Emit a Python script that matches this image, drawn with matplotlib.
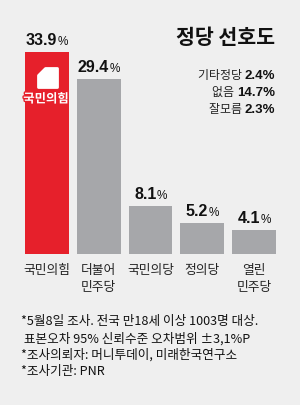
import matplotlib
matplotlib.use("Agg")
import matplotlib.pyplot as plt
from matplotlib.patches import Polygon
import matplotlib.patheffects as pe

categories = ["국민의힘", "더불어\n민주당", "국민의당", "정의당", "열린\n민주당"]
values = [33.9, 29.4, 8.1, 5.2, 4.1]
value_labels = ["33.9", "29.4", "8.1", "5.2", "4.1"]
others_names = ["기타정당", "없음", "잘모름"]
others_values = ["2.4%", "14.7%", "2.3%"]
title = "정당 선호도"
notes = ["*5월8일 조사. 전국 만18세 이상 1003명 대상.",
         " 표본오차 95% 신뢰수준 오차범위 ±3,1%P",
         "*조사의뢰자: 머니투데이, 미래한국연구소",
         "*조사기관: PNR"]

BG = "#efefef"
RED = "#e6202b"
GRAY = "#a6a7aa"
KR = ["Noto Sans CJK KR", "DejaVu Sans"]
NUM = ["Liberation Sans", "DejaVu Sans"]

W, H = 300, 406
fig = plt.figure(figsize=(W / 100, H / 100), dpi=100)
fig.patch.set_facecolor(BG)

# axes placement (pixel geometry)
px_per_unit = 5.96
x0 = 47 - 51.75 / 2
baseline = 255
ylim_top = 40
ax = fig.add_axes([x0 / W, (H - baseline) / H, 51.75 * 5 / W, px_per_unit * ylim_top / H])
ax.set_xlim(-0.5, 4.5)
ax.set_ylim(0, ylim_top)
ax.axis("off")
ax.patch.set_alpha(0)

colors = [RED] + [GRAY] * 4
xs = list(range(len(values)))
ax.bar(xs, values, width=0.85, color=colors)

fig.canvas.draw()
renderer = fig.canvas.get_renderer()


def pieces(x, y, parts, ha="center", gaps=None):
    """Draw (text, kwargs) pieces on one baseline, pixel coords from top-left."""
    objs = []
    widths = []
    for s, kw in parts:
        t = fig.text(0, 0, s, va="baseline", ha="left", **kw)
        bb = t.get_window_extent(renderer)
        widths.append(bb.width)
        objs.append(t)
    if gaps is None:
        gaps = [0] * len(parts)
    total = sum(widths) + sum(gaps)
    if ha == "center":
        start = x - total / 2
    elif ha == "right":
        start = x - total
    else:
        start = x
    cx = start
    for t, w, g in zip(objs, widths, gaps):
        cx += g
        t.set_position((cx / W, (H - y) / H))
        cx += w
    return objs


# value labels
for i, (v, lab) in enumerate(zip(values, value_labels)):
    xc = 47 + 51.75 * i
    ytop = baseline - v * px_per_unit
    pieces(xc, ytop - 8, [(lab, dict(family=NUM, fontsize=11.5, fontweight="bold", color="#111111")),
                          ("%", dict(family=NUM, fontsize=8.5, color="#111111"))],
           gaps=[0, 0.2])

# category labels
for i, c in enumerate(categories):
    xc = 47 + 51.75 * i
    fig.text(xc / W, (H - 264) / H, c, ha="center", va="top", family=KR,
             fontsize=9.2, color="#222222", linespacing=1.45)

# title
fig.text(275 / W, (H - 37) / H, title, ha="right", va="center", family=KR,
         fontsize=14.8, fontweight="bold", color="#111111")

# others
for j, (n, v) in enumerate(zip(others_names, others_values)):
    yb = 79 + 17 * j
    pieces(275, yb, [(n + " ", dict(family=KR, fontsize=8.6, color="#222222")),
                     (v, dict(family=NUM, fontsize=9.5, fontweight="bold", color="#111111"))],
           ha="right", gaps=[0, 0.2])

# party logo on red bar
lx, ly = 38, 69  # pixel top-left
s = 19
logo_px = [(lx + 7, ly), (lx + s, ly), (lx + s, ly + s), (lx, ly + s), (lx, ly + 7)]
logo = Polygon([(px / W, (H - py) / H) for px, py in logo_px], closed=True,
               transform=fig.transFigure, facecolor="white", edgecolor="white",
               linewidth=2, joinstyle="round")
fig.patches.append(logo)
fig.text(46 / W, (H - 100) / H, "국민의힘", ha="center", va="center", family=KR,
         fontsize=8.9, fontweight="bold", color="white",
         path_effects=[pe.withStroke(linewidth=2, foreground=RED)])

# footnotes
for k, line in enumerate(notes):
    fig.text(21 / W, (H - (322 + 16.5 * k)) / H, line, ha="left", va="center", family=KR,
             fontsize=9.1, color="#111111")

fig.savefig("out.png", dpi=100, facecolor=BG)
